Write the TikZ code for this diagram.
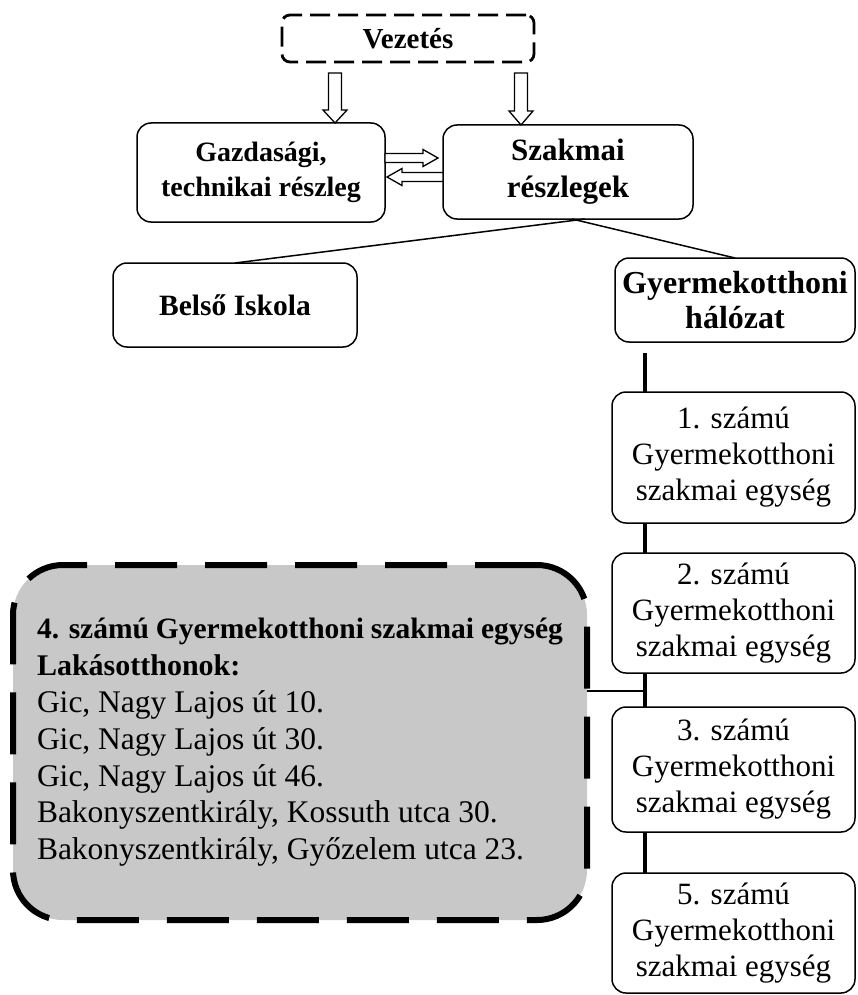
\documentclass[tikz,border=0pt]{standalone}
\usepackage{fontspec}
\setmainfont{Liberation Serif}
\usetikzlibrary{calc}
\definecolor{boxgray}{RGB}{200,200,200}
\tikzset{
  every node/.style={inner sep=0pt, outer sep=0pt},
  rbox/.style={draw, line width=1.5pt, rounded corners=14pt, fill=white, align=center},
  unitbox/.style={rbox, minimum width=243pt, font=\fontsize{31}{36}\selectfont},
  arrowline/.style={draw, line width=1.3pt, fill=white, line join=miter},
  link/.style={line width=1.5pt},
  trunk/.style={line width=3.5pt},
}
\newcommand{\harw}[5]{%
  \draw[arrowline] ($#1!#3!90:#2$) -- ($($#2!#5!#1$)!#3!90:#2$) -- ($($#2!#5!#1$)!#4!90:#2$)
    -- #2 -- ($($#2!#5!#1$)!#4!-90:#2$) -- ($($#2!#5!#1$)!#3!-90:#2$) -- ($#1!#3!-90:#2$) -- cycle;}
\begin{document}
\begin{tikzpicture}[x=1pt, y=-1pt]
\useasboundingbox (0,0) rectangle (857,995);

% top level
\node[draw, line width=2.8pt, dash pattern=on 20pt off 8pt, rounded corners=8pt,
      minimum width=252pt, minimum height=47pt, font=\fontsize{29}{34}\selectfont\bfseries]
      (vez) at (408,38.5) {Vezetés};
\node[rbox, minimum width=248pt, minimum height=99pt, font=\fontsize{28}{35}\selectfont\bfseries]
      (gaz) at (261,172.5) {Gazdasági,\\technikai részleg};
\node[rbox, minimum width=250pt, minimum height=94pt, font=\fontsize{31}{37}\selectfont\bfseries]
      (szak) at (568,172) {Szakmai\\részlegek};
\node[rbox, minimum width=244pt, minimum height=84pt, font=\fontsize{29.5}{35}\selectfont\bfseries]
      (bel) at (235,305) {Belső Iskola};
\node[rbox, minimum width=240pt, minimum height=84pt, font=\fontsize{32}{35}\selectfont\bfseries]
      (hal) at (735,300) {Gyermekotthoni\\hálózat};

% units
\node[unitbox, minimum height=131pt] (u1) at (733.5,457.5) {1. számú\\Gyermekotthoni\\szakmai egység};
\node[unitbox, minimum height=120pt] (u2) at (733.5,613) {2. számú\\Gyermekotthoni\\szakmai egység};
\node[unitbox, minimum height=125pt] (u3) at (733.5,769.5) {3. számú\\Gyermekotthoni\\szakmai egység};
\node[unitbox, minimum height=120pt] (u5) at (733.5,933) {5. számú\\Gyermekotthoni\\szakmai egység};

% gray dashed box
\node[draw, fill=boxgray, line width=6pt, dash pattern=on 62pt off 28pt, rounded corners=50pt,
      minimum width=574pt, minimum height=355pt, text width=526pt, align=flush left,
      font=\fontsize{31.5}{36.8}\selectfont]
      (gray) at (300,742.5) {%
  \lineskiplimit=-100pt
  {\fontsize{29.5}{36.8}\selectfont\bfseries 4. számú Gyermekotthoni szakmai egység}\\
  {\fontsize{30}{36.8}\selectfont\bfseries Lakásotthonok:}\\
  Gic, Nagy Lajos út 10.\\
  Gic, Nagy Lajos út 30.\\
  Gic, Nagy Lajos út 46.\\
  Bakonyszentkirály, Kossuth utca 30.\\
  Bakonyszentkirály, Győzelem utca 23.\par};

% hollow arrows
\coordinate (d1) at (335,73);
\coordinate (d2) at (521,73);
\coordinate (h1) at (0,158);
\coordinate (h2) at (0,177);
\harw{(d1)}{(d1 |- gaz.north)}{6.5pt}{12pt}{13pt}
\harw{(d2)}{(d2 |- szak.north)}{6.5pt}{12pt}{14pt}
\harw{(gaz.east |- h1)}{($(szak.west |- h1)+(-5,0)$)}{4.5pt}{8.5pt}{15pt}
\harw{(szak.west |- h2)}{($(gaz.east |- h2)+(2,0)$)}{4.5pt}{8.5pt}{15pt}

% links
\draw[link] (bel.north) -- ($(szak.south)+(17,0)$);
\draw[link] ($(szak.south)+(4,0)$) -- (hal.north);

% trunk
\coordinate (tt) at (645,353);
\coordinate (j) at (645,691);
\draw[trunk] (tt) -- (tt |- u1.north);
\draw[trunk] (u1.south -| tt) -- (u2.north -| tt);
\draw[trunk] (u2.south -| tt) -- (u3.north -| tt);
\draw[trunk] (u3.south -| tt) -- (u5.north -| tt);
\draw[link] (gray.east |- j) -- (j);
\end{tikzpicture}
\end{document}
